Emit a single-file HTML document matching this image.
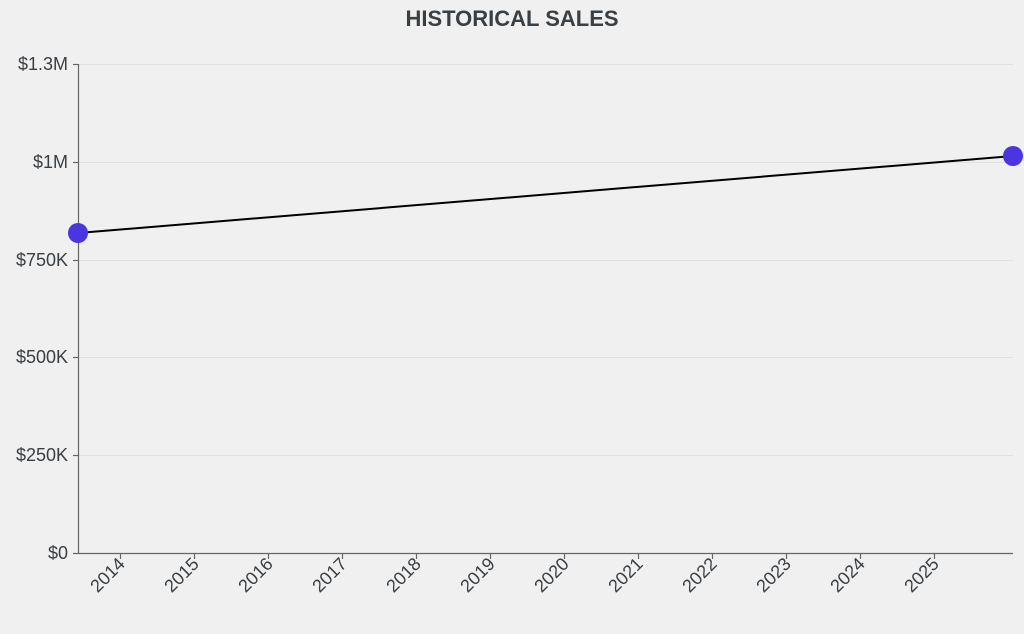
<!DOCTYPE html>
<html><head><style>
html,body{margin:0;padding:0;background:#f0f0f0;}
svg{display:block;font-family:"Liberation Sans",sans-serif;}
</style></head><body>
<svg width="1024" height="634" viewBox="0 0 1024 634">
<rect width="1024" height="634" fill="#f0f0f0"/>
<text x="512" y="26" text-anchor="middle" font-size="22" font-weight="bold" fill="#3a3f44">HISTORICAL SALES</text>
<g stroke="#e2e2e2" stroke-width="1">
<line x1="79" x2="1013" y1="64.5" y2="64.5"/>
<line x1="79" x2="1013" y1="162.5" y2="162.5"/>
<line x1="79" x2="1013" y1="260.5" y2="260.5"/>
<line x1="79" x2="1013" y1="357.5" y2="357.5"/>
<line x1="79" x2="1013" y1="455.5" y2="455.5"/>
</g>
<g stroke="#666" stroke-width="1.2">
<line x1="78.5" y1="64" x2="78.5" y2="553.5"/>
<line x1="78" y1="553.5" x2="1013" y2="553.5"/>
<line x1="73" x2="78" y1="64.5" y2="64.5"/>
<line x1="73" x2="78" y1="162.5" y2="162.5"/>
<line x1="73" x2="78" y1="260.5" y2="260.5"/>
<line x1="73" x2="78" y1="357.5" y2="357.5"/>
<line x1="73" x2="78" y1="455.5" y2="455.5"/>
<line x1="73" x2="78" y1="553.5" y2="553.5"/>
</g>
<g font-size="18" fill="#3a3f44" text-anchor="end">
<text x="68" y="70">$1.3M</text>
<text x="68" y="168">$1M</text>
<text x="68" y="266">$750K</text>
<text x="68" y="363">$500K</text>
<text x="68" y="461">$250K</text>
<text x="68" y="559">$0</text>
</g>
<g stroke="#666" stroke-width="1.2">
<line x1="120.5" x2="120.5" y1="553" y2="559"/><line x1="194.5" x2="194.5" y1="553" y2="559"/>
<line x1="268.5" x2="268.5" y1="553" y2="559"/><line x1="342.5" x2="342.5" y1="553" y2="559"/>
<line x1="416.5" x2="416.5" y1="553" y2="559"/><line x1="490.5" x2="490.5" y1="553" y2="559"/>
<line x1="564.5" x2="564.5" y1="553" y2="559"/><line x1="638.5" x2="638.5" y1="553" y2="559"/>
<line x1="712.5" x2="712.5" y1="553" y2="559"/><line x1="786.5" x2="786.5" y1="553" y2="559"/>
<line x1="860.5" x2="860.5" y1="553" y2="559"/><line x1="934.5" x2="934.5" y1="553" y2="559"/>
</g>
<g font-size="18" fill="#3a3f44" text-anchor="end">
<text transform="translate(126,565) rotate(-45)">2014</text>
<text transform="translate(200,565) rotate(-45)">2015</text>
<text transform="translate(274,565) rotate(-45)">2016</text>
<text transform="translate(348,565) rotate(-45)">2017</text>
<text transform="translate(422,565) rotate(-45)">2018</text>
<text transform="translate(496,565) rotate(-45)">2019</text>
<text transform="translate(570,565) rotate(-45)">2020</text>
<text transform="translate(644,565) rotate(-45)">2021</text>
<text transform="translate(718,565) rotate(-45)">2022</text>
<text transform="translate(792,565) rotate(-45)">2023</text>
<text transform="translate(866,565) rotate(-45)">2024</text>
<text transform="translate(940,565) rotate(-45)">2025</text>
</g>
<line x1="78" y1="233" x2="1013" y2="156" stroke="#000" stroke-width="2"/>
<circle cx="78" cy="233" r="10" fill="#4a35e0"/>
<circle cx="1013" cy="156" r="10" fill="#4a35e0"/>
</svg>
</body></html>
